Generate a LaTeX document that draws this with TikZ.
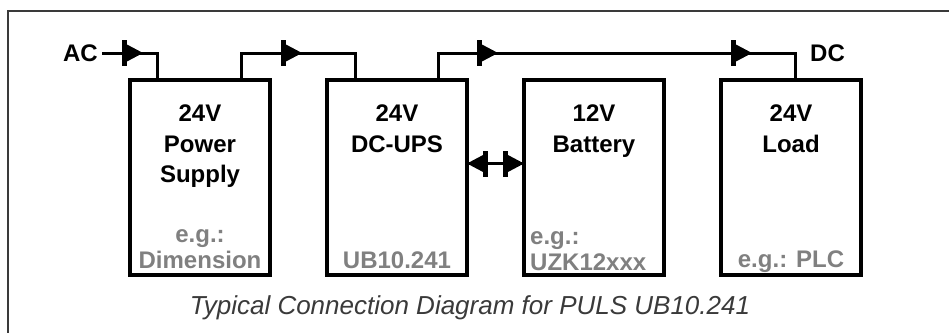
\documentclass[tikz,border=0pt]{standalone}
\usepackage{fontspec}
\setmainfont{Liberation Sans}
\usetikzlibrary{positioning,decorations.markings}
\definecolor{hintgray}{HTML}{808080}
\definecolor{framegray}{HTML}{3A3A3A}
\begin{document}
\begin{tikzpicture}
[x=1pt, y=-1pt, node distance=57pt, font=\bfseries\fontsize{24}{30.5}\selectfont]
\tikzstyle{unit}=[draw, line width=3.5pt, minimum width=140pt, minimum height=195pt, inner sep=0pt, outer sep=0pt]
\tikzstyle{title}=[align=center, inner sep=0pt, anchor=north]
\tikzstyle{hint}=[align=center, inner sep=0pt, anchor=base, text=hintgray, font=\bfseries\fontsize{24}{26}\selectfont]
\tikzstyle{tag}=[inner sep=4pt]
\tikzstyle{wire}=[line width=3pt]
\tikzstyle{caption}=[inner sep=0pt, anchor=base, text=framegray, font=\mdseries\itshape\fontsize{26}{30}\selectfont]
\tikzset{flowat/.style={postaction={decorate, decoration={markings, mark=at position #1 with
	{\fill (-17pt,-9pt) -- (0pt,0pt) -- (-17pt,9pt) -- cycle;
	 \fill (-21pt,-13pt) rectangle (-16pt,13pt);}}}}}
\tikzset{flowback/.style={postaction={decorate, decoration={markings, mark=at position #1 with
	{\fill (17pt,-9pt) -- (0pt,0pt) -- (17pt,9pt) -- cycle;
	 \fill (21pt,-13pt) rectangle (16pt,13pt);}}}}}

\useasboundingbox (0,0) rectangle (949,332);
\clip (0,0) rectangle (949,332);
\draw[framegray, line width=2pt] (8,345) |- (960,11);

\node[unit]	(PS)	at (200,177.5)		{};
\node[unit]	(UPS)	[right=of PS]		{};
\node[unit]	(BAT)	[right=of UPS]		{};
\node[unit]	(LD)	[right=of BAT]		{};

\node[title]	(PSt)	at ([yshift=-25pt]PS.north)	{24V\\Power\\Supply};
\node[title]	(UPSt)	at ([yshift=-25pt]UPS.north)	{24V\\DC-UPS};
\node[title]	(BATt)	at ([yshift=-25pt]BAT.north)	{12V\\Battery};
\node[title]	(LDt)	at ([yshift=-25pt]LD.north)	{24V\\Load};

\node[hint]	(PSh)	at ([yshift=7pt]PS.south)	{e.g.:\\Dimension};
\node[hint]	(UPSh)	at ([yshift=7pt]UPS.south)	{UB10.241};
\node[hint, align=left, anchor=base west]	(BATh)	at ([xshift=6pt, yshift=5pt]BAT.south west)	{e.g.:\\UZK12xxx};
\node[hint]	(LDh)	at ([yshift=8pt]LD.south)	{e.g.: PLC};

\node[tag, anchor=east]	(AC)	at (102,53)	{AC};
\node[tag, anchor=west]	(DC)	at (806,53)	{DC};

\draw[wire, flowat=41pt] (AC.east) -| ([xshift=27pt]PS.north west);
\draw[wire, flowat=88pt] ([xshift=111pt]PS.north west) -- ++(0,-27) -| ([xshift=28pt]UPS.north west);
\draw[wire, flowat=87pt, flowat=341pt] ([xshift=111pt]UPS.north west) -- ++(0,-27) -| ([xshift=74pt]LD.north west);
\draw[wire, flowback=0, flowat=1] ([yshift=14pt]UPS.east) -- ([yshift=14pt]BAT.west);

\node[caption]	(CAP)	at (470,314)	{Typical Connection Diagram for PULS UB10.241};
\end{tikzpicture}
\end{document}
